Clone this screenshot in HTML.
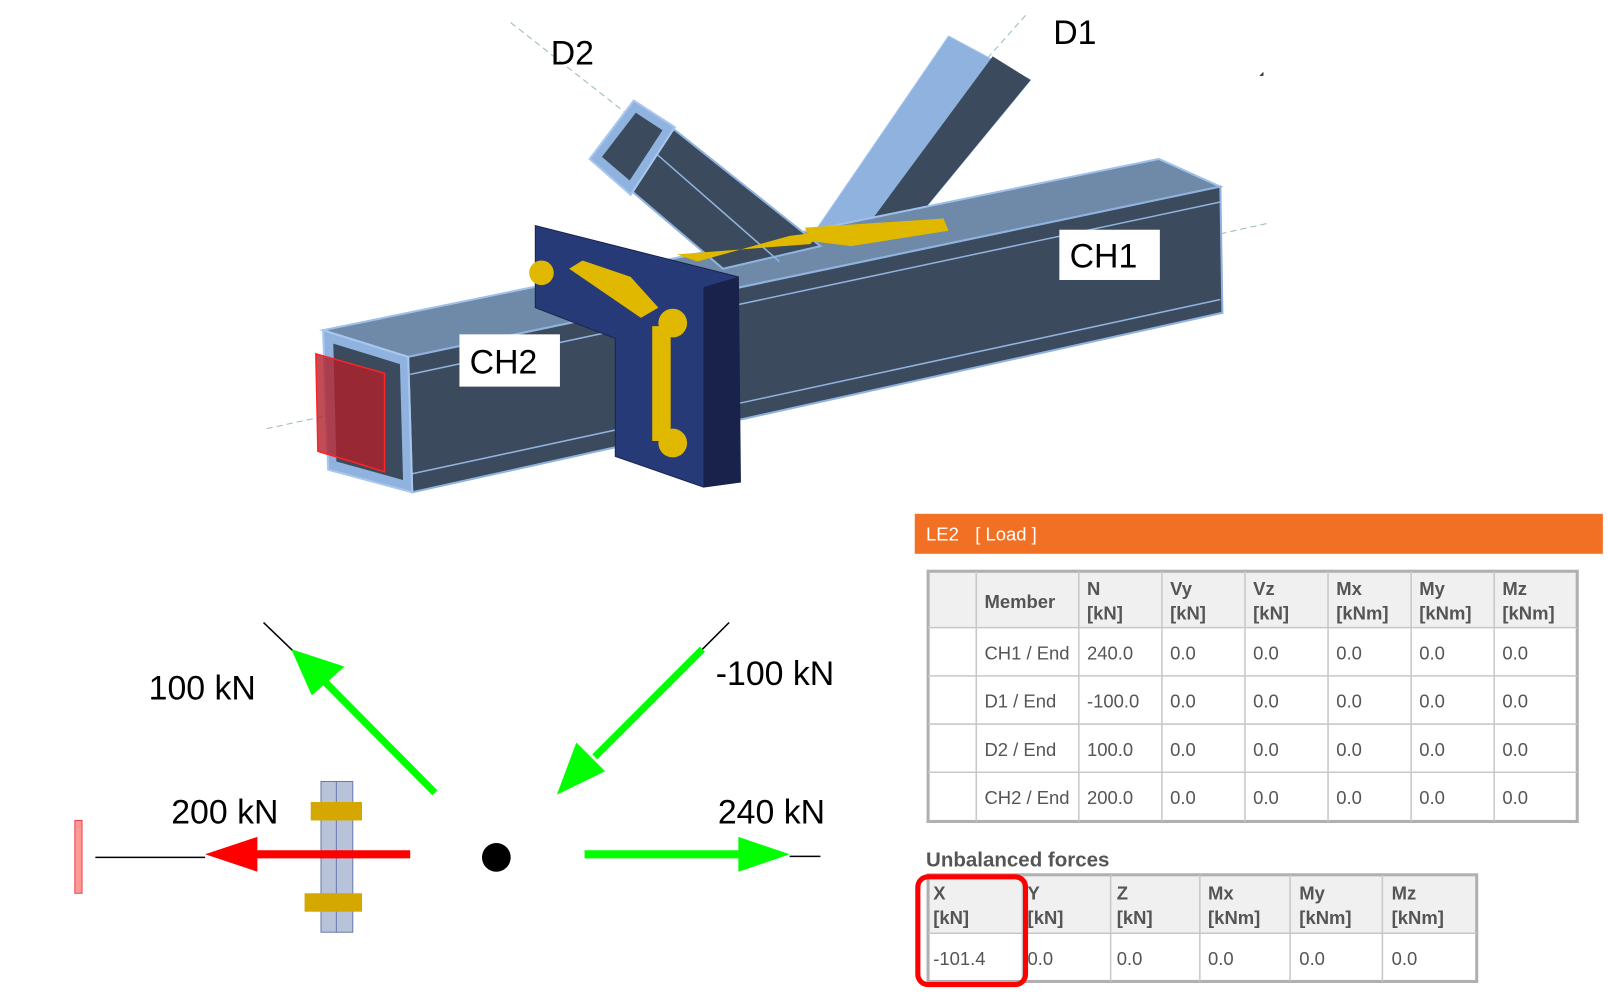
<!DOCTYPE html>
<html><head><meta charset="utf-8"><style>
html,body{margin:0;padding:0;background:#fff;width:1608px;height:1003px;overflow:hidden}
svg{display:block}
text{font-family:"Liberation Sans",sans-serif}
.t{font-size:18px;fill:#555}
.h{font-size:18px;fill:#555;font-weight:bold}
.big{font-size:33px;fill:#000}
</style></head><body>
<svg width="1608" height="1003" viewBox="0 0 1568 978" preserveAspectRatio="none" xmlns="http://www.w3.org/2000/svg">
<!-- axis lines -->
<line x1="498" y1="22" x2="610" y2="110" stroke="#9bb" stroke-width="1" stroke-dasharray="6 4"/>
<line x1="1000" y1="15" x2="960" y2="60" stroke="#9bb" stroke-width="1" stroke-dasharray="6 4"/>
<line x1="260" y1="418" x2="320" y2="405" stroke="#9bb" stroke-width="1" stroke-dasharray="6 4"/>
<line x1="1190" y1="228" x2="1235" y2="218" stroke="#9bb" stroke-width="1" stroke-dasharray="6 4"/>
<!-- D1 brace -->
<polygon points="925,35 1005,78 880,230 795,225" fill="#8fb3de" stroke="#a9c7ee"/>
<polygon points="968,55 1005,78 880,230 840,228" fill="#3b4a5c"/>
<!-- chord top face & front -->
<polygon points="315,322 1130,155 1190,182 398,348" fill="#6e8aa8" stroke="#9ec0ea" stroke-width="2"/>
<polygon points="398,348 1190,182 1192,305 402,480" fill="#3b4a5c" stroke="#8fb3de" stroke-width="2"/>
<line x1="400" y1="365" x2="1190" y2="197" stroke="#8fb3de" stroke-width="1.5"/>
<line x1="402" y1="462" x2="1190" y2="292" stroke="#8fb3de" stroke-width="1.5"/>
<!-- end face -->
<polygon points="315,322 398,348 402,480 320,458" fill="#8fb3de" stroke="#a9c7ee" stroke-width="2"/>
<polygon points="325,335 390,355 393,468 328,450" fill="#3b4a5c"/>
<polygon points="308,345 375,364 375,460 310,440" fill="#b0202a" fill-opacity="0.8" stroke="#f22" stroke-width="1.5"/>
<!-- D2 brace -->
<polygon points="585,160 652,122 800,240 705,262" fill="#3b4a5c" stroke="#8fb3de" stroke-width="2"/>
<line x1="640" y1="150" x2="760" y2="255" stroke="#8fb3de" stroke-width="1.5"/>
<polygon points="575,155 618,98 658,124 615,190" fill="#8fb3de" stroke="#a9c7ee" stroke-width="2"/>
<polygon points="587,153 620,110 646,127 614,176" fill="#3b4a5c"/>
<!-- welds on chord -->
<polygon points="660,248 790,238 802,226 770,230 680,255" fill="#e0b800"/>
<polygon points="785,222 920,213 925,225 830,240 790,235" fill="#e0b800"/>
<!-- plate -->
<polygon points="522,220 720,270 722,470 686,475 600,445 600,330 522,300" fill="#263a78" stroke="#1a2450"/>
<polygon points="686,280 720,270 722,470 686,475" fill="#18224a"/>
<!-- plate welds and bolts -->
<polygon points="555,262 568,254 615,270 642,300 625,310" fill="#e0b800"/>
<rect x="636" y="318" width="18" height="112" fill="#e0b800"/>
<circle cx="528" cy="266" r="12" fill="#e0b800"/>
<circle cx="656" cy="315" r="14" fill="#e0b800"/>
<circle cx="656" cy="432" r="14" fill="#e0b800"/>
<!-- labels -->
<text x="537" y="63" class="big">D2</text>
<text x="1027" y="43" class="big">D1</text>
<rect x="1033" y="224" width="98" height="49" fill="#fff"/>
<text x="1043" y="261" class="big">CH1</text>
<rect x="448" y="326" width="98" height="51" fill="#fff"/>
<text x="458" y="364" class="big">CH2</text>
<path d="M1228,74 l4,-4 v4z" fill="#333"/>

<!-- bottom-left force diagram -->
<line x1="93" y1="836" x2="200" y2="836" stroke="#000" stroke-width="1.5"/>
<rect x="73" y="800" width="7" height="71" fill="#f99" stroke="#e44"/>
<rect x="313" y="762" width="31" height="147" fill="#b8c2d8" stroke="#6a7ab0"/>
<line x1="328" y1="762" x2="328" y2="909" stroke="#6a7ab0"/>
<rect x="303" y="782" width="50" height="18" fill="#d4a800"/>
<rect x="297" y="871" width="56" height="18" fill="#d4a800"/>
<line x1="250" y1="833" x2="400" y2="833" stroke="#f00" stroke-width="8"/>
<polygon points="200,833 251,816 251,850" fill="#f00"/>
<circle cx="484" cy="836" r="14" fill="#000"/>
<line x1="570" y1="833" x2="722" y2="833" stroke="#0f0" stroke-width="8"/>
<polygon points="770,833 720,816 720,850" fill="#0f0"/>
<line x1="770" y1="835" x2="800" y2="835" stroke="#000" stroke-width="1.5"/>
<line x1="424" y1="773" x2="315" y2="663" stroke="#0f0" stroke-width="7"/>
<polygon points="284,633 336,650 304,678" fill="#0f0"/>
<line x1="257" y1="607" x2="285" y2="634" stroke="#000" stroke-width="1.5"/>
<line x1="685" y1="633" x2="580" y2="738" stroke="#0f0" stroke-width="7"/>
<polygon points="543,775 562,724 590,752" fill="#0f0"/>
<line x1="711" y1="607" x2="685" y2="633" stroke="#000" stroke-width="1.5"/>
<text x="145" y="682" class="big">100 kN</text>
<text x="698" y="668" class="big">-100 kN</text>
<text x="167" y="803" class="big">200 kN</text>
<text x="700" y="803" class="big">240 kN</text>

<!-- table header -->
<rect x="892" y="501" width="671" height="39" fill="#f27024"/>
<text x="903" y="527" font-size="18" fill="#fff">LE2</text>
<text x="951" y="527" font-size="18" fill="#fff">[ Load ]</text>
<!-- table 1 -->
<rect x="905" y="557" width="633" height="55" fill="#f0f0f0"/>
<rect x="905" y="557" width="633" height="244" fill="none" stroke="#b0b0b0" stroke-width="3"/>
<g stroke="#c8c8c8" stroke-width="1.5">
<line x1="952" y1="557" x2="952" y2="801"/><line x1="1052" y1="557" x2="1052" y2="801"/>
<line x1="1133" y1="557" x2="1133" y2="801"/><line x1="1214" y1="557" x2="1214" y2="801"/>
<line x1="1295" y1="557" x2="1295" y2="801"/><line x1="1376" y1="557" x2="1376" y2="801"/>
<line x1="1457" y1="557" x2="1457" y2="801"/>
<line x1="905" y1="612" x2="1538" y2="612"/><line x1="905" y1="659" x2="1538" y2="659"/>
<line x1="905" y1="706" x2="1538" y2="706"/><line x1="905" y1="753" x2="1538" y2="753"/>
</g>
<text x="960" y="593" class="h">Member</text>
<text x="1060" y="580" class="h">N</text><text x="1060" y="604" class="h">[kN]</text>
<text x="1141" y="580" class="h">Vy</text><text x="1141" y="604" class="h">[kN]</text>
<text x="1222" y="580" class="h">Vz</text><text x="1222" y="604" class="h">[kN]</text>
<text x="1303" y="580" class="h">Mx</text><text x="1303" y="604" class="h">[kNm]</text>
<text x="1384" y="580" class="h">My</text><text x="1384" y="604" class="h">[kNm]</text>
<text x="1465" y="580" class="h">Mz</text><text x="1465" y="604" class="h">[kNm]</text>
<text x="960" y="643" class="t">CH1 / End</text><text x="1060" y="643" class="t">240.0</text>
<text x="960" y="690" class="t">D1 / End</text><text x="1060" y="690" class="t">-100.0</text>
<text x="960" y="737" class="t">D2 / End</text><text x="1060" y="737" class="t">100.0</text>
<text x="960" y="784" class="t">CH2 / End</text><text x="1060" y="784" class="t">200.0</text>
<text x="1141" y="643" class="t">0.0</text><text x="1222" y="643" class="t">0.0</text><text x="1303" y="643" class="t">0.0</text><text x="1384" y="643" class="t">0.0</text><text x="1465" y="643" class="t">0.0</text>
<text x="1141" y="690" class="t">0.0</text><text x="1222" y="690" class="t">0.0</text><text x="1303" y="690" class="t">0.0</text><text x="1384" y="690" class="t">0.0</text><text x="1465" y="690" class="t">0.0</text>
<text x="1141" y="737" class="t">0.0</text><text x="1222" y="737" class="t">0.0</text><text x="1303" y="737" class="t">0.0</text><text x="1384" y="737" class="t">0.0</text><text x="1465" y="737" class="t">0.0</text>
<text x="1141" y="784" class="t">0.0</text><text x="1222" y="784" class="t">0.0</text><text x="1303" y="784" class="t">0.0</text><text x="1384" y="784" class="t">0.0</text><text x="1465" y="784" class="t">0.0</text>
<!-- unbalanced -->
<text x="903" y="845" font-size="20" font-weight="bold" fill="#555">Unbalanced forces</text>
<rect x="905" y="853" width="535" height="57" fill="#f0f0f0"/>
<rect x="905" y="853" width="535" height="104" fill="none" stroke="#b0b0b0" stroke-width="3"/>
<g stroke="#c8c8c8" stroke-width="1.5">
<line x1="997" y1="853" x2="997" y2="957"/><line x1="1083" y1="853" x2="1083" y2="957"/>
<line x1="1170" y1="853" x2="1170" y2="957"/><line x1="1258" y1="853" x2="1258" y2="957"/>
<line x1="1348" y1="853" x2="1348" y2="957"/><line x1="905" y1="910" x2="1440" y2="910"/>
</g>
<text x="910" y="877" class="h">X</text><text x="910" y="901" class="h">[kN]</text>
<text x="1002" y="877" class="h">Y</text><text x="1002" y="901" class="h">[kN]</text>
<text x="1089" y="877" class="h">Z</text><text x="1089" y="901" class="h">[kN]</text>
<text x="1178" y="877" class="h">Mx</text><text x="1178" y="901" class="h">[kNm]</text>
<text x="1267" y="877" class="h">My</text><text x="1267" y="901" class="h">[kNm]</text>
<text x="1357" y="877" class="h">Mz</text><text x="1357" y="901" class="h">[kNm]</text>
<text x="910" y="941" class="t">-101.4</text><text x="1002" y="941" class="t">0.0</text><text x="1089" y="941" class="t">0.0</text>
<text x="1178" y="941" class="t">0.0</text><text x="1267" y="941" class="t">0.0</text><text x="1357" y="941" class="t">0.0</text>
<rect x="895" y="855" width="105" height="105" rx="10" fill="none" stroke="#f00" stroke-width="5"/>
</svg>
</body></html>
